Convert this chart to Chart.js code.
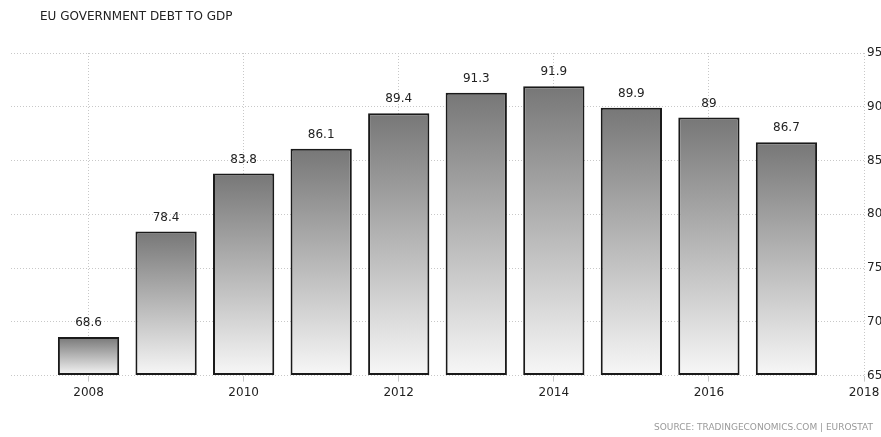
<!DOCTYPE html>
<html>
<head>
<meta charset="utf-8">
<script src="https://cdn.jsdelivr.net/npm/chart.js@4"></script>
<style>
    html, body { margin: 0; padding: 0; background: #fff; }
    #wrap { width: 881px; height: 437px; }
</style>
</head>
<body>
<div id="wrap"><canvas id="debt-chart"></canvas></div>
<script>
// start: Data
const years = [2008, 2009, 2010, 2011, 2012, 2013, 2014, 2015, 2016, 2017];
const debtToGdp = [68.6, 78.4, 83.8, 86.1, 89.4, 91.3, 91.9, 89.9, 89, 86.7];
const yearTicks = [2008, 2010, 2012, 2014, 2016, 2018];
const yTicks = [65, 70, 75, 80, 85, 90, 95];
// end: Data

const FONT = 'DejaVu Sans';
const Y_MIN = 65;

// title and source line
const captions = {
    id: 'captions',
    afterDraw(chart) {
        const ctx = chart.ctx;
        ctx.save();
        ctx.fillStyle = '#222';
        ctx.font = '12px ' + FONT;
        ctx.textAlign = 'left';
        ctx.textBaseline = 'middle';
        ctx.fillText('EU GOVERNMENT DEBT TO GDP', 40, 17);
        ctx.fillStyle = '#999';
        ctx.font = '9px ' + FONT;
        ctx.textAlign = 'right';
        ctx.fillText('SOURCE: TRADINGECONOMICS.COM | EUROSTAT', 873, 428);
        ctx.restore();
    }
};

// value printed above each bar
const barValues = {
    id: 'barValues',
    afterDatasetsDraw(chart) {
        const ctx = chart.ctx;
        const meta = chart.getDatasetMeta(0);
        ctx.save();
        ctx.fillStyle = '#222';
        ctx.font = '12px ' + FONT;
        ctx.textAlign = 'center';
        ctx.textBaseline = 'middle';
        meta.data.forEach(function (bar, i) {
            ctx.fillText(String(debtToGdp[i]), bar.x, bar.y - 14);
        });
        ctx.restore();
    }
};

function barGradient(context) {
    const chart = context.chart;
    if (!chart.chartArea || !context.parsed) return '#aaa';
    const y = chart.scales.y;
    const top = y.getPixelForValue(context.parsed.y);
    const bottom = y.getPixelForValue(Y_MIN);
    const g = chart.ctx.createLinearGradient(0, top, 0, bottom);
    g.addColorStop(0, '#777777');
    g.addColorStop(1, '#f7f7f7');
    return g;
}

new Chart(document.getElementById('debt-chart'), {
    type: 'bar',
    data: {
        datasets: [{
            data: years.map((yr, i) => ({ x: yr, y: debtToGdp[i] })),
            base: Y_MIN,
            backgroundColor: barGradient,
            borderColor: '#1a1a1a',
            borderWidth: 2,
            borderSkipped: false,
            barPercentage: 0.79,
            categoryPercentage: 1
        }]
    },
    options: {
        responsive: true,
        maintainAspectRatio: false,
        animation: false,
        layout: {
            padding: { top: 53, left: 11, right: 0, bottom: 33 }
        },
        plugins: {
            legend: { display: false },
            tooltip: { enabled: false }
        },
        scales: {
            x: {
                type: 'linear',
                offset: false,
                min: 2007,
                max: 2018,
                afterBuildTicks(scale) {
                    scale.ticks = yearTicks.map(v => ({ value: v }));
                },
                afterFit(scale) {
                    // let the 2018 label hang past the plot edge
                    scale.paddingLeft = 0;
                    scale.paddingRight = 0;
                },
                border: { display: false, dash: [1, 2] },
                grid: {
                    offset: false,
                    color: '#c8c8c8',
                    tickColor: '#c8c8c8',
                    tickLength: 6
                },
                ticks: {
                    autoSkip: false,
                    maxRotation: 0,
                    padding: 4,
                    color: '#222',
                    font: { family: FONT, size: 12 },
                    callback: v => String(v)
                }
            },
            y: {
                position: 'right',
                min: 65,
                max: 95,
                afterBuildTicks(scale) {
                    scale.ticks = yTicks.map(v => ({ value: v }));
                },
                afterFit(scale) {
                    scale.width = 17;
                },
                border: { display: false, dash: [1, 2] },
                grid: {
                    color: '#c8c8c8',
                    drawTicks: false
                },
                ticks: {
                    padding: 3,
                    color: '#222',
                    font: { family: FONT, size: 12 }
                }
            }
        }
    },
    plugins: [captions, barValues]
});
</script>
</body>
</html>
